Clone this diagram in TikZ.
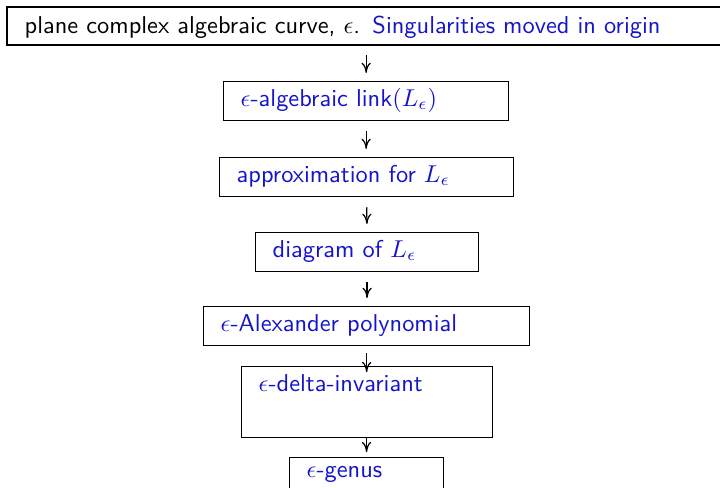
\documentclass[tikz,border=0pt]{standalone}
\usepackage{amsmath,amssymb}
\usepackage{xcolor}
\usepackage{tikz}
\usetikzlibrary{arrows.meta,calc,positioning}
\definecolor{lkc}{RGB}{20,20,200}

\begin{document}
\begin{tikzpicture}[x=0.41pt,y=-0.41pt,
  bx/.style={draw,line width=0.5pt,anchor=north west,align=left,font=\sffamily,text=lkc,
    inner xsep=7pt,inner ysep=0pt,text height=10pt,text depth=6pt},
  fl/.style={-{To[length=4.2pt,width=3.8pt]},line width=0.5pt,shorten <=4.1pt,shorten >=3.3pt}]
  \useasboundingbox (0,0) rectangle (720,487);
  \node[bx,draw=none,text=black,text width=300pt,text height=10.5pt,text depth=4.6pt] (top) at (7,7) {plane complex algebraic curve, $\epsilon$. {\color{lkc}Singularities moved in origin}};
  \draw[line width=0.5pt] (top.north east) -- (top.north west) -- (top.south west) -- (top.south east);
  \node[bx,text width=102.9pt] (lnk) at (223,81) {$\epsilon$-algebraic link$(L_\epsilon)$};
  \node[bx,text width=106.5pt] (apx) at (219,157) {approximation for $L_\epsilon$};
  \node[bx,text width=77.4pt] (dgm) at (255,232) {diagram of $L_\epsilon$};
  \node[bx,text width=119.7pt] (alx) at (203,306) {$\epsilon$-Alexander polynomial};
  \node[bx,text width=88.9pt,text depth=19.1pt] (dlt) at (241,366) {$\epsilon$-delta-invariant};
  \node[bx,text width=49.1pt,text height=8.2pt,text depth=10pt] (gns) at (289,457) {$\epsilon$-genus};
  \draw[fl] (top.south -| lnk.north) -- (lnk.north);
  \draw[fl] (lnk.south) -- (apx.north -| lnk.south);
  \draw[fl] (apx.south) -- (dgm.north);
  \draw[fl] (dgm.south) -- (alx.north -| dgm.south);
  \draw[fl,shorten <=2.9pt,shorten >=-2.5pt] (alx.south) -- (dlt.north -| alx.south);
  \draw[fl,shorten <=0pt,shorten >=2pt] (dlt.south -| gns.north) -- (gns.north);
\end{tikzpicture}
\end{document}
